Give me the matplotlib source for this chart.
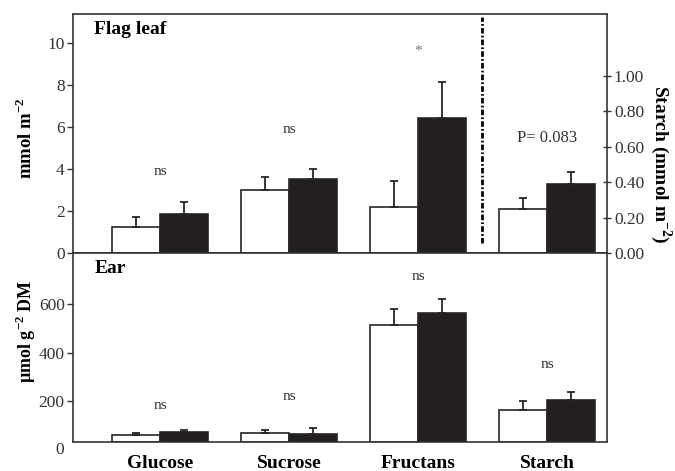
import matplotlib
matplotlib.use("Agg")
import numpy as np
import matplotlib.pyplot as plt

plt.rcParams["font.family"] = ["Liberation Serif", "DejaVu Serif"]
plt.rcParams["mathtext.fontset"] = "custom"
plt.rcParams["mathtext.rm"] = "Liberation Serif"
plt.rcParams["mathtext.bf"] = "Liberation Serif:bold"

categories = ["Glucose", "Sucrose", "Fructans", "Starch"]

# Flag leaf (mmol m-2), glucose/sucrose/fructans on left axis
leaf_white = [1.22, 3.00, 2.17]
leaf_white_err = [0.48, 0.63, 1.26]
leaf_black = [1.84, 3.52, 6.44]
leaf_black_err = [0.60, 0.48, 1.72]
leaf_labels = ["ns", "ns", "*"]
leaf_label_y = [3.87, 5.9, 9.6]

# Flag leaf starch (right axis)
starch_white = 0.247
starch_white_err = 0.063
starch_black = 0.39
starch_black_err = 0.065

# Ear (umol g-2 DM)
ear_white = [62, 71, 514, 166]
ear_white_err = [9, 10, 67, 37]
ear_black = [75, 67, 564, 205]
ear_black_err = [6, 22, 59, 35]
ear_label_y = [185, 222, 713, 354]

W, H = 675, 471
fig = plt.figure(figsize=(W / 100, H / 100), dpi=100)

def frac(left, top, right, bottom):
    return [left / W, 1 - bottom / H, (right - left) / W, (bottom - top) / H]

edge = "#262626"
dark = "#231f20"
x = np.arange(len(categories))
bw = 0.37
xlim = (-0.674, 3.465)
err_kw = dict(fmt="none", ecolor=edge, elinewidth=1.3, capsize=3, capthick=1.3)

# ---- top panel: flag leaf
ax1 = fig.add_axes(frac(73, 14, 607, 253))
ax1.bar(x[:3] - bw / 2, leaf_white, bw, color="white", edgecolor=edge, linewidth=1.2)
ax1.bar(x[:3] + bw / 2, leaf_black, bw, color=dark, edgecolor=edge, linewidth=1.2)
ax1.errorbar(x[:3] - bw / 2, leaf_white, yerr=[np.zeros(3), leaf_white_err], **err_kw)
ax1.errorbar(x[:3] + bw / 2, leaf_black, yerr=[np.zeros(3), leaf_black_err], **err_kw)
for i, (lab, ly) in enumerate(zip(leaf_labels, leaf_label_y)):
    ax1.text(x[i], ly, lab, ha="center", va="center", fontsize=11,
             color="#333333" if lab == "ns" else "#777777")
ax1.set_xlim(*xlim)
ax1.set_ylim(0, 11.38)
ax1.set_yticks([0, 2, 4, 6, 8, 10])
ax1.set_xticks([])
ax1.tick_params(axis="y", direction="out", length=4, width=1, labelsize=12.5,
                colors="#333333", pad=2)
ax1.axvline(2.5, ymin=0.042, ymax=0.987, color="black", linewidth=2,
            linestyle=(0, (2, 0.8, 0.6, 0.8)))
ax1.text(0.04, 0.916, "Flag leaf", transform=ax1.transAxes, fontsize=14,
         fontweight="bold", va="baseline", ha="left")
for sp in ax1.spines.values():
    sp.set_color("#333333")
    sp.set_linewidth(1.2)

ax2 = ax1.twinx()
ax2.bar(x[3] - bw / 2, starch_white, bw, color="white", edgecolor=edge, linewidth=1.2)
ax2.bar(x[3] + bw / 2, starch_black, bw, color=dark, edgecolor=edge, linewidth=1.2)
ax2.errorbar([x[3] - bw / 2], [starch_white], yerr=[[0], [starch_white_err]], **err_kw)
ax2.errorbar([x[3] + bw / 2], [starch_black], yerr=[[0], [starch_black_err]], **err_kw)
ax2.text(x[3], 0.65, "P= 0.083", ha="center", va="center", fontsize=12, color="#333333")
ax2.set_ylim(0, 1.35)
ax2.set_yticks([0, 0.2, 0.4, 0.6, 0.8, 1.0])
ax2.set_yticklabels(["0.00", "0.20", "0.40", "0.60", "0.80", "1.00"])
ax2.tick_params(axis="y", direction="inout", length=6, width=1, labelsize=12.5,
                colors="#333333", pad=2)
for sp in ax2.spines.values():
    sp.set_visible(False)

# ---- bottom panel: ear (axis line sits a little above the 0 level)
y0 = 33
ax3 = fig.add_axes(frac(73, 253, 607, 442))
ax3.bar(x - bw / 2, np.array(ear_white) - y0, bw, bottom=y0, color="white",
        edgecolor=edge, linewidth=1.2)
ax3.bar(x + bw / 2, np.array(ear_black) - y0, bw, bottom=y0, color=dark,
        edgecolor=edge, linewidth=1.2)
ax3.errorbar(x - bw / 2, ear_white, yerr=[np.zeros(4), ear_white_err], **err_kw)
ax3.errorbar(x + bw / 2, ear_black, yerr=[np.zeros(4), ear_black_err], **err_kw)
for i, ly in enumerate(ear_label_y):
    ax3.text(x[i], ly, "ns", ha="center", va="center", fontsize=11, color="#333333")
ax3.set_xlim(*xlim)
ax3.set_ylim(y0, 811)
ax3.set_yticks([200, 400, 600])
ax3.tick_params(axis="y", direction="out", length=4, width=1, labelsize=12.5,
                colors="#333333", pad=2)
# the "0" label sits below the axis line, without a tick
ax3.text(-0.016, 0, "0", transform=ax3.get_yaxis_transform(), ha="right", va="center",
         fontsize=12.5, color="#333333", clip_on=False)
ax3.set_xticks(x)
ax3.set_xticklabels(categories, fontsize=14, fontweight="bold")
ax3.tick_params(axis="x", length=0, pad=9)
ax3.text(0.04, 0.894, "Ear", transform=ax3.transAxes, fontsize=14,
         fontweight="bold", va="baseline", ha="left")
for sp in ax3.spines.values():
    sp.set_color("#333333")
    sp.set_linewidth(1.2)

# axis labels
fig.text(26 / W, 1 - 138 / H, r"mmol m$^{\mathbf{-2}}$", rotation=90, ha="center",
         va="center", fontsize=13.5, fontweight="bold")
fig.text(26 / W, 1 - 331 / H, r"µmol g$^{\mathbf{-2}}$ DM", rotation=90, ha="center",
         va="center", fontsize=13, fontweight="bold")
fig.text(661 / W, 1 - 164 / H, r"Starch (mmol m$^{\mathbf{-2}}$)", rotation=270,
         ha="center", va="center", fontsize=14, fontweight="bold")

fig.savefig("out.png", dpi=100)
